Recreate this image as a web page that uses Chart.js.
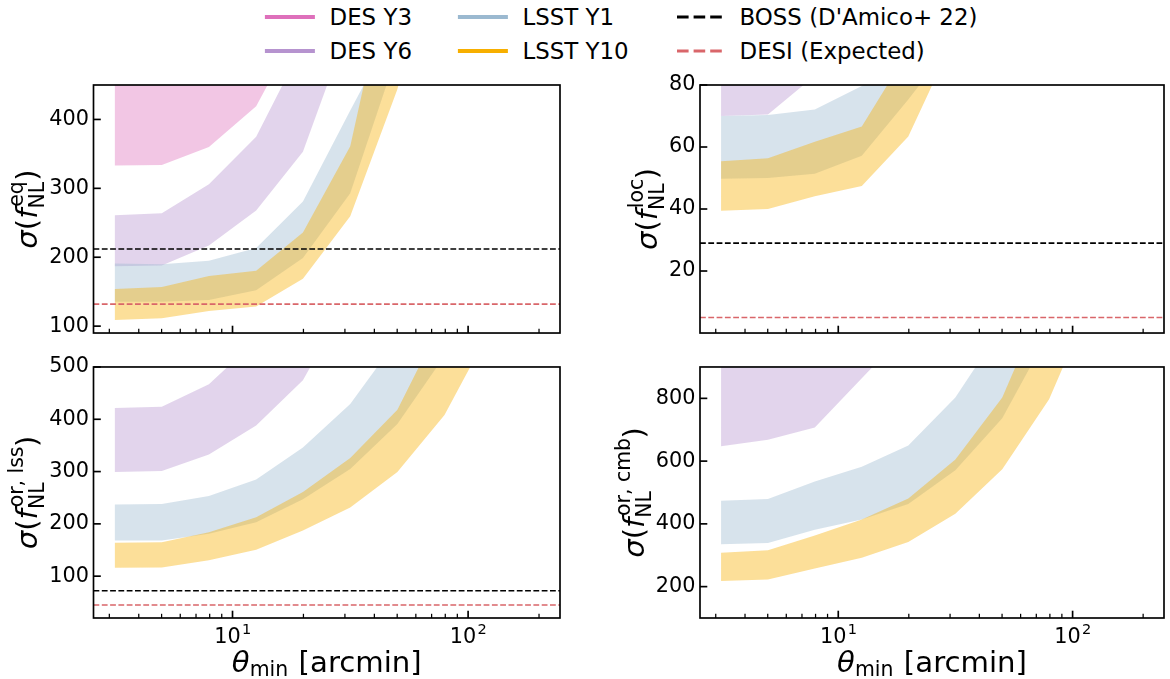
<!DOCTYPE html>
<html>
<head>
<meta charset="utf-8">
<title>fNL forecasts vs theta_min</title>
<script src="https://cdn.jsdelivr.net/npm/chart.js@4.4.1/dist/chart.umd.min.js"></script>
<style>
  html, body { margin: 0; padding: 0; background: #fff; }
  body { width: 1170px; height: 679px; position: relative; overflow: hidden; font-family: "DejaVu Sans", sans-serif; }
  canvas { position: absolute; }
  .lg { position: absolute; font-size: 22.9px; line-height: 1.2; white-space: nowrap; color: #000; }
  .sw { position: absolute; overflow: visible; }
</style>
</head>
<body>
<div id="legend"></div>
<canvas id="cEq"></canvas>
<canvas id="cLoc"></canvas>
<canvas id="cLss"></canvas>
<canvas id="cCmb"></canvas>
<script>
// scale cuts (arcmin)
const thetaMin = [3.16, 5.01, 7.94, 12.6, 19.9, 31.6, 50.1, 79.4, 126, 200];
const xMin = 2.57, xMax = 245.5;
const xTickValues = [3, 4, 5, 6, 7, 8, 9, 10, 20, 30, 40, 50, 60, 70, 80, 90, 100, 200];
const xMajorTicks = [10, 100];
const xTickBase = ['10', '10'];
const xTickExp = ['1', '2'];

const surveys = ['DES Y3', 'DES Y6', 'LSST Y1', 'LSST Y10'];
const surveyLine = ['rgb(222,112,187)', 'rgb(182,147,207)', 'rgb(155,185,208)', 'rgb(247,175,0)'];
const surveyFill = ['rgba(222,112,187,0.4)', 'rgba(182,147,207,0.4)', 'rgba(155,185,208,0.4)', 'rgba(247,175,0,0.4)'];
const refLabels = ["BOSS (D'Amico+ 22)", 'DESI (Expected)'];
const refColors = ['#000000', '#d9666a'];

// sigma(f_NL^eq)
const eqDesY3Lo = [333, 334, 360, 419, 546, 760, 1050, 1500, 2200, 3200];
const eqDesY3Hi = [600, 610, 660, 770, 980, 1350, 1900, 2700, 3900, 5600];
const eqDesY6Lo = [187, 188, 217, 268, 353, 542, 800, 1150, 1650, 2400];
const eqDesY6Hi = [261, 264, 306, 375, 508, 720, 1050, 1500, 2200, 3100];
const eqLsstY1Lo = [135.5, 135.5, 138, 152, 199, 293, 497, 760, 1100, 1600];
const eqLsstY1Hi = [191, 190, 195, 213.5, 281, 413, 542, 800, 1150, 1650];
const eqLsstY10Lo = [109, 111.3, 122, 128.4, 168.6, 259.5, 444, 700, 1050, 1500];
const eqLsstY10Hi = [154, 156.8, 172.8, 180.4, 235.8, 361, 670, 1000, 1450, 2100];
const eqTicks = [100, 200, 300, 400];
const eqRange = [90, 450];
const eqBoss = 212, eqDesi = 132;

// sigma(f_NL^loc)
const locDesY6Lo = [70, 70.5, 83, 100, 130, 180, 260, 380, 550, 800];
const locDesY6Hi = [95, 97, 115, 140, 180, 250, 350, 500, 720, 1000];
const locLsstY1Lo = [49.8, 50, 51.4, 57.2, 75.3, 95, 130, 180, 260, 370];
const locLsstY1Hi = [70, 70.3, 72.1, 79.7, 88, 110, 150, 210, 300, 430];
const locLsstY10Lo = [39.4, 40, 44.1, 47.4, 63.4, 96, 130, 180, 260, 370];
const locLsstY10Hi = [55.4, 56.4, 61.7, 66.6, 91, 125, 170, 240, 340, 480];
const locTicks = [20, 40, 60, 80];
const locRange = [0, 80];
const locBoss = 29, locDesi = 5;

// sigma(f_NL^or,lss)
const lssDesY6Lo = [299, 301, 332.5, 388, 474.5, 637, 900, 1300, 1800, 2600];
const lssDesY6Hi = [421.5, 424, 467, 551, 700, 950, 1350, 1900, 2700, 3800];
const lssLsstY1Lo = [168.3, 168.3, 181, 203, 247, 305, 391, 521, 750, 1100];
const lssLsstY1Hi = [237, 238, 253.5, 285, 346, 429, 553, 800, 1150, 1650];
const lssLsstY10Lo = [116, 116.5, 130.4, 150.6, 187.3, 231.4, 299, 408, 577, 850];
const lssLsstY10Hi = [164, 165, 184, 212.5, 261, 326, 418, 598, 880, 1300];
const lssTicks = [100, 200, 300, 400, 500];
const lssRange = [20, 500];
const lssBoss = 72, lssDesi = 45;

// sigma(f_NL^or,cmb)
const cmbDesY6Lo = [647, 668, 707, 864, 1019, 1350, 1900, 2700, 3800, 5400];
const cmbDesY6Hi = [1000, 1050, 1150, 1400, 1800, 2400, 3300, 4600, 6400, 9000];
const cmbLsstY1Lo = [334.7, 339, 381, 413.7, 463, 570.5, 736.8, 1010, 1450, 2100];
const cmbLsstY1Hi = [474, 479, 535, 582, 650, 803, 1028, 1400, 2000, 2850];
const cmbLsstY10Lo = [218, 223, 258, 292, 342, 432, 574, 797, 1145, 1650];
const cmbLsstY10Hi = [308, 316, 363, 414, 481, 605, 803, 1149, 1650, 2350];
const cmbTicks = [200, 400, 600, 800];
const cmbRange = [100, 900];

const FONT = '"DejaVu Sans"';
const tickSize = 20.8, labelSize = 29.2, tickPad = 4.5;

function yLabel(sup) {
  return [{t: 'σ', it: true}, {t: '('}, {t: 'f', it: true}, {sub: 'NL', sup: sup}, {t: ')'}];
}
const xLabel = [{t: 'θ', it: true}, {sub: 'min'}, {t: ' [arcmin]'}];

// tiny mathtext-ish writer: text runs, stacked sub/superscripts
function mathWidth(ctx, parts, size) {
  let w = 0;
  parts.forEach(p => {
    if (p.t !== undefined) {
      ctx.font = (p.it ? 'italic ' : '') + size + 'px ' + FONT;
      w += ctx.measureText(p.t).width;
    } else {
      ctx.font = (size * 0.7) + 'px ' + FONT;
      w += Math.max(p.sub ? ctx.measureText(p.sub).width : 0, p.sup ? ctx.measureText(p.sup).width : 0) + size * 0.04;
    }
  });
  return w;
}
function drawMath(ctx, parts, size, x, y) {
  let cx = x;
  ctx.textBaseline = 'alphabetic';
  ctx.textAlign = 'left';
  parts.forEach(p => {
    if (p.t !== undefined) {
      ctx.font = (p.it ? 'italic ' : '') + size + 'px ' + FONT;
      ctx.fillText(p.t, cx, y);
      cx += ctx.measureText(p.t).width;
    } else {
      ctx.font = (size * 0.7) + 'px ' + FONT;
      let w = 0;
      if (p.sup) {
        ctx.fillText(p.sup, cx + size * 0.06, y - size * 0.47);
        w = Math.max(w, ctx.measureText(p.sup).width);
      }
      if (p.sub) {
        ctx.fillText(p.sub, cx, y + size * (p.sup ? 0.24 : 0.16));
        w = Math.max(w, ctx.measureText(p.sub).width);
      }
      cx += w + size * 0.04;
    }
  });
}

function framePlugin(p) {
  return {
    id: 'frame' + p.canvas,
    afterDraw(chart) {
      const {ctx, chartArea: a, scales} = chart;
      const xs = scales.x, ys = scales.y;
      ctx.save();
      ctx.strokeStyle = '#000';
      ctx.fillStyle = '#000';
      // inward ticks, bottom and left only
      xTickValues.forEach(v => {
        const px = xs.getPixelForValue(v);
        const major = xMajorTicks.includes(v);
        ctx.lineWidth = major ? 1.67 : 1.25;
        ctx.beginPath();
        ctx.moveTo(px, a.bottom);
        ctx.lineTo(px, a.bottom - (major ? 7.3 : 4.2));
        ctx.stroke();
      });
      ctx.lineWidth = 1.67;
      p.ticks.forEach(v => {
        const py = ys.getPixelForValue(v);
        ctx.beginPath();
        ctx.moveTo(a.left, py);
        ctx.lineTo(a.left + 7.3, py);
        ctx.stroke();
      });
      ctx.lineWidth = 1.67;
      ctx.strokeRect(a.left, a.top, a.right - a.left, a.bottom - a.top);

      // x tick labels and x title on the lower row
      if (p.showX) {
        xMajorTicks.forEach((v, i) => {
          const parts = [{t: xTickBase[i]}, {sup: xTickExp[i]}];
          const w = mathWidth(ctx, parts, tickSize);
          drawMath(ctx, parts, tickSize, xs.getPixelForValue(v) - w / 2, a.bottom + 25.3);
        });
        const w = mathWidth(ctx, xLabel, labelSize);
        drawMath(ctx, xLabel, labelSize, (a.left + a.right) / 2 - w / 2, a.bottom + 53.5);
      }

      // y title, rotated
      ctx.font = tickSize + 'px ' + FONT;
      const tw = Math.max(...p.ticks.map(v => ctx.measureText(String(v)).width));
      const bx = a.left - tickPad - tw - 8.3 - 0.13 * labelSize;
      const w = mathWidth(ctx, p.label, labelSize);
      ctx.translate(bx, (a.top + a.bottom) / 2);
      ctx.rotate(-Math.PI / 2);
      drawMath(ctx, p.label, labelSize, -w / 2, 0);
      ctx.restore();
    }
  };
}

function makePanel(p) {
  const canvas = document.getElementById(p.canvas);
  canvas.width = p.w;
  canvas.height = p.h;
  canvas.style.left = p.left + 'px';
  canvas.style.top = p.top + 'px';
  canvas.style.width = p.w + 'px';
  canvas.style.height = p.h + 'px';

  const datasets = [];
  p.bands.forEach((band, i) => {
    if (!band) return;
    const idx = datasets.length;
    datasets.push({
      label: surveys[i],
      data: thetaMin.map((t, k) => ({x: t, y: band[1][k]})),
      fill: idx + 1,
      backgroundColor: surveyFill[i],
      borderColor: 'rgba(0,0,0,0)',
      borderWidth: 0,
      pointRadius: 0,
      order: 4 - i
    });
    datasets.push({
      label: surveys[i] + ' low',
      data: thetaMin.map((t, k) => ({x: t, y: band[0][k]})),
      fill: false,
      borderColor: 'rgba(0,0,0,0)',
      borderWidth: 0,
      pointRadius: 0,
      order: 4 - i
    });
  });
  p.refs.forEach((level, j) => {
    if (level == null) return;
    datasets.push({
      label: refLabels[j],
      data: [{x: xMin, y: level}, {x: xMax, y: level}],
      fill: false,
      borderColor: refColors[j],
      borderWidth: 1.6,
      borderDash: [5.8, 2.5],
      pointRadius: 0,
      order: 0
    });
  });

  return new Chart(canvas, {
    type: 'line',
    data: {datasets},
    options: {
      responsive: false,
      animation: false,
      events: [],
      layout: {padding: p.pad},
      plugins: {legend: {display: false}, tooltip: {enabled: false}},
      scales: {
        x: {
          type: 'logarithmic',
          min: xMin,
          max: xMax,
          grid: {display: false, drawTicks: false},
          border: {display: false},
          ticks: {display: false},
          afterBuildTicks: s => { s.ticks = xTickValues.map(v => ({value: v})); },
          afterFit: s => { s.height = p.xH; }
        },
        y: {
          type: 'linear',
          min: p.range[0],
          max: p.range[1],
          grid: {display: false, drawTicks: false},
          border: {display: false},
          ticks: {color: '#000', padding: tickPad, font: {family: 'DejaVu Sans', size: tickSize}},
          afterBuildTicks: s => { s.ticks = p.ticks.map(v => ({value: v})); },
          afterFit: s => { s.width = p.yW; }
        }
      }
    },
    plugins: [framePlugin(p)]
  });
}

const panels = [
  {canvas: 'cEq', left: 0, top: 60, w: 580, h: 290, yW: 93.5, xH: 11,
   pad: {left: 0, right: 20, top: 25, bottom: 0},
   range: eqRange, ticks: eqTicks, label: yLabel('eq'), showX: false,
   bands: [[eqDesY3Lo, eqDesY3Hi], [eqDesY6Lo, eqDesY6Hi], [eqLsstY1Lo, eqLsstY1Hi], [eqLsstY10Lo, eqLsstY10Hi]],
   refs: [eqBoss, eqDesi]},
  {canvas: 'cLoc', left: 590, top: 60, w: 580, h: 290, yW: 110, xH: 11,
   pad: {left: 0, right: 6, top: 25, bottom: 0},
   range: locRange, ticks: locTicks, label: yLabel('loc'), showX: false,
   bands: [null, [locDesY6Lo, locDesY6Hi], [locLsstY1Lo, locLsstY1Hi], [locLsstY10Lo, locLsstY10Hi]],
   refs: [locBoss, locDesi]},
  {canvas: 'cLss', left: 0, top: 350, w: 580, h: 329, yW: 93.5, xH: 61,
   pad: {left: 0, right: 20, top: 14, bottom: 0},
   range: lssRange, ticks: lssTicks, label: yLabel('or, lss'), showX: true,
   bands: [null, [lssDesY6Lo, lssDesY6Hi], [lssLsstY1Lo, lssLsstY1Hi], [lssLsstY10Lo, lssLsstY10Hi]],
   refs: [lssBoss, lssDesi]},
  {canvas: 'cCmb', left: 590, top: 350, w: 580, h: 329, yW: 110, xH: 61,
   pad: {left: 0, right: 6, top: 14, bottom: 0},
   range: cmbRange, ticks: cmbTicks, label: yLabel('or, cmb'), showX: true,
   bands: [null, [cmbDesY6Lo, cmbDesY6Hi], [cmbLsstY1Lo, cmbLsstY1Hi], [cmbLsstY10Lo, cmbLsstY10Hi]],
   refs: [null, null]}
];
panels.forEach(makePanel);

// legend, three columns of two
const legendItems = [
  {label: surveys[0], color: surveyLine[0]},
  {label: surveys[1], color: surveyLine[1]},
  {label: surveys[2], color: surveyLine[2]},
  {label: surveys[3], color: surveyLine[3]},
  {label: refLabels[0], color: refColors[0], dash: true},
  {label: refLabels[1], color: refColors[1], dash: true}
];
const legendCols = [267, 460, 677];
const legendRows = [17, 51];
const legend = document.getElementById('legend');
legendItems.forEach((it, i) => {
  const x = legendCols[Math.floor(i / 2)], y = legendRows[i % 2];
  const svg = document.createElementNS('http://www.w3.org/2000/svg', 'svg');
  svg.setAttribute('class', 'sw');
  svg.setAttribute('width', '52');
  svg.setAttribute('height', '10');
  svg.style.left = (x - 3) + 'px';
  svg.style.top = (y - 5) + 'px';
  const ln = document.createElementNS('http://www.w3.org/2000/svg', 'line');
  ln.setAttribute('x1', '3');
  ln.setAttribute('x2', '48.8');
  ln.setAttribute('y1', '5');
  ln.setAttribute('y2', '5');
  ln.setAttribute('stroke', it.color);
  if (it.dash) {
    ln.setAttribute('stroke-width', '3.1');
    ln.setAttribute('stroke-dasharray', '11.6 5');
  } else {
    ln.setAttribute('stroke-width', '4.2');
    ln.setAttribute('stroke-linecap', 'square');
  }
  svg.appendChild(ln);
  legend.appendChild(svg);
  const span = document.createElement('span');
  span.className = 'lg';
  span.textContent = it.label;
  span.style.left = (x + 62.5) + 'px';
  span.style.top = (y - 0.582 * 22.9) + 'px';
  legend.appendChild(span);
});
</script>
</body>
</html>
